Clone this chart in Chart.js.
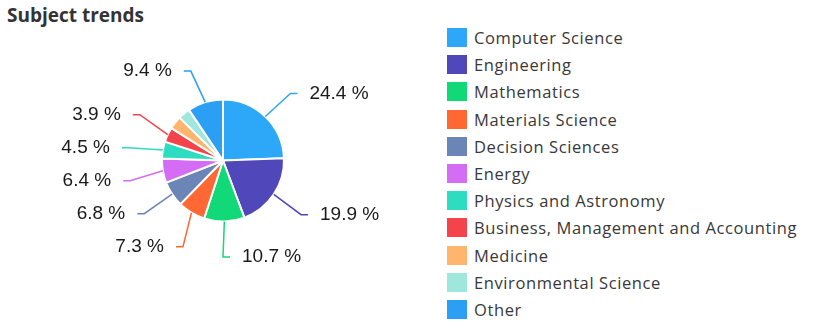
<!DOCTYPE html>
<html>
<head>
<meta charset="utf-8">
<script src="https://cdn.jsdelivr.net/npm/chart.js@4"></script>
<style>
  body { margin: 0; background: #fff; width: 820px; height: 329px; overflow: hidden; position: relative; }
  h1 { position: absolute; left: 7px; top: 2px; margin: 0; font: bold 19px "Open Sans", sans-serif; color: #333; }
  #wrap { position: absolute; left: 0; top: 0; width: 440px; height: 329px; }
  #legend { position: absolute; left: 447px; top: 24px; margin: 0; padding: 0; list-style: none; font: 16.5px "Open Sans", sans-serif; letter-spacing: 0.6px; color: #383838; }
  #legend li { height: 27.2px; display: flex; align-items: center; white-space: nowrap; }
  #legend span.box { width: 20px; height: 19px; margin-right: 7px; flex: none; }
</style>
</head>
<body>
<h1>Subject trends</h1>
<div id="wrap"><canvas id="pie" width="440" height="329"></canvas></div>
<ul id="legend"></ul>
<script>
const subjects = ["Computer Science", "Engineering", "Mathematics", "Materials Science", "Decision Sciences",
  "Energy", "Physics and Astronomy", "Business, Management and Accounting", "Medicine",
  "Environmental Science", "Other"];
const shares = [24.4, 19.9, 10.7, 7.3, 6.8, 6.4, 4.5, 3.9, 3.5, 3.2, 9.4];
const colors = ["#2da8f8", "#5047bb", "#12d977", "#ff6733", "#6b86b6", "#d46cf6", "#2edcc2",
  "#f4434b", "#ffb56b", "#9fe6dc", "#2b9ff3"];
const minLabelShare = 3.8;

// legend
const legend = document.getElementById("legend");
subjects.forEach((s, i) => {
  const li = document.createElement("li");
  li.innerHTML = '<span class="box" style="background:' + colors[i] + '"></span>' + s;
  legend.appendChild(li);
});

// leader lines + percentage labels
const pieLabels = {
  id: "pieLabels",
  afterDatasetsDraw(chart) {
    const ctx = chart.ctx;
    const arcs = chart.getDatasetMeta(0).data;
    const R = 95, gap = 33;
    const items = [];
    arcs.forEach((arc, i) => {
      if (shares[i] < minLabelShare) return;
      const mid = (arc.startAngle + arc.endAngle) / 2;
      const ux = Math.cos(mid), uy = Math.sin(mid);
      items.push({ i, ux, uy, cx: arc.x, cy: arc.y, r: arc.outerRadius,
        side: ux >= 0 ? 1 : -1, y: arc.y + R * uy + 1.5 });
    });
    // push overlapping labels apart, per side, as centred clusters
    [1, -1].forEach(side => {
      const list = items.filter(it => it.side === side).sort((a, b) => a.y - b.y);
      let groups = list.map(it => ({ members: [it], mean: it.y }));
      let merged = true;
      while (merged) {
        merged = false;
        for (let k = 0; k < groups.length - 1; k++) {
          const a = groups[k], b = groups[k + 1];
          const aEnd = a.mean + (a.members.length - 1) * gap / 2;
          const bStart = b.mean - (b.members.length - 1) * gap / 2;
          if (bStart - aEnd < gap) {
            const all = a.members.concat(b.members);
            const mean = all.reduce((s, it) => s + it.y, 0) / all.length;
            groups.splice(k, 2, { members: all, mean });
            merged = true;
            break;
          }
        }
      }
      groups.forEach(g => {
        const n = g.members.length;
        g.members.forEach((it, j) => { it.ly = g.mean + (j - (n - 1) / 2) * gap; });
      });
    });
    ctx.save();
    ctx.font = "19px 'Liberation Sans', Arial, sans-serif";
    ctx.textBaseline = "middle";
    items.forEach(it => {
      const dy = it.ly - it.cy;
      const ex = it.cx + it.side * Math.sqrt(Math.max(R * R - dy * dy, 0));
      const ax = ex + it.side * 7;
      ctx.strokeStyle = colors[it.i];
      ctx.lineWidth = 1.5;
      ctx.beginPath();
      ctx.moveTo(it.cx + it.r * it.ux, it.cy + it.r * it.uy);
      ctx.lineTo(ex, it.ly);
      ctx.lineTo(ax, it.ly);
      ctx.stroke();
      ctx.fillStyle = "#1a1a1a";
      ctx.textAlign = it.side > 0 ? "left" : "right";
      ctx.fillText(shares[it.i].toFixed(1) + " %", ax + it.side * 12, it.ly);
    });
    ctx.restore();
  }
};

new Chart("pie", {
  type: "pie",
  data: {
    labels: subjects,
    datasets: [{
      data: shares,
      backgroundColor: colors,
      borderColor: "#fff",
      borderWidth: 2,
      radius: 61
    }]
  },
  options: {
    responsive: false,
    animation: false,
    layout: { padding: { left: 6, right: 0, top: 0, bottom: 8 } },
    plugins: {
      legend: { display: false },
      tooltip: { enabled: false }
    }
  },
  plugins: [pieLabels]
});
</script>
</body>
</html>
